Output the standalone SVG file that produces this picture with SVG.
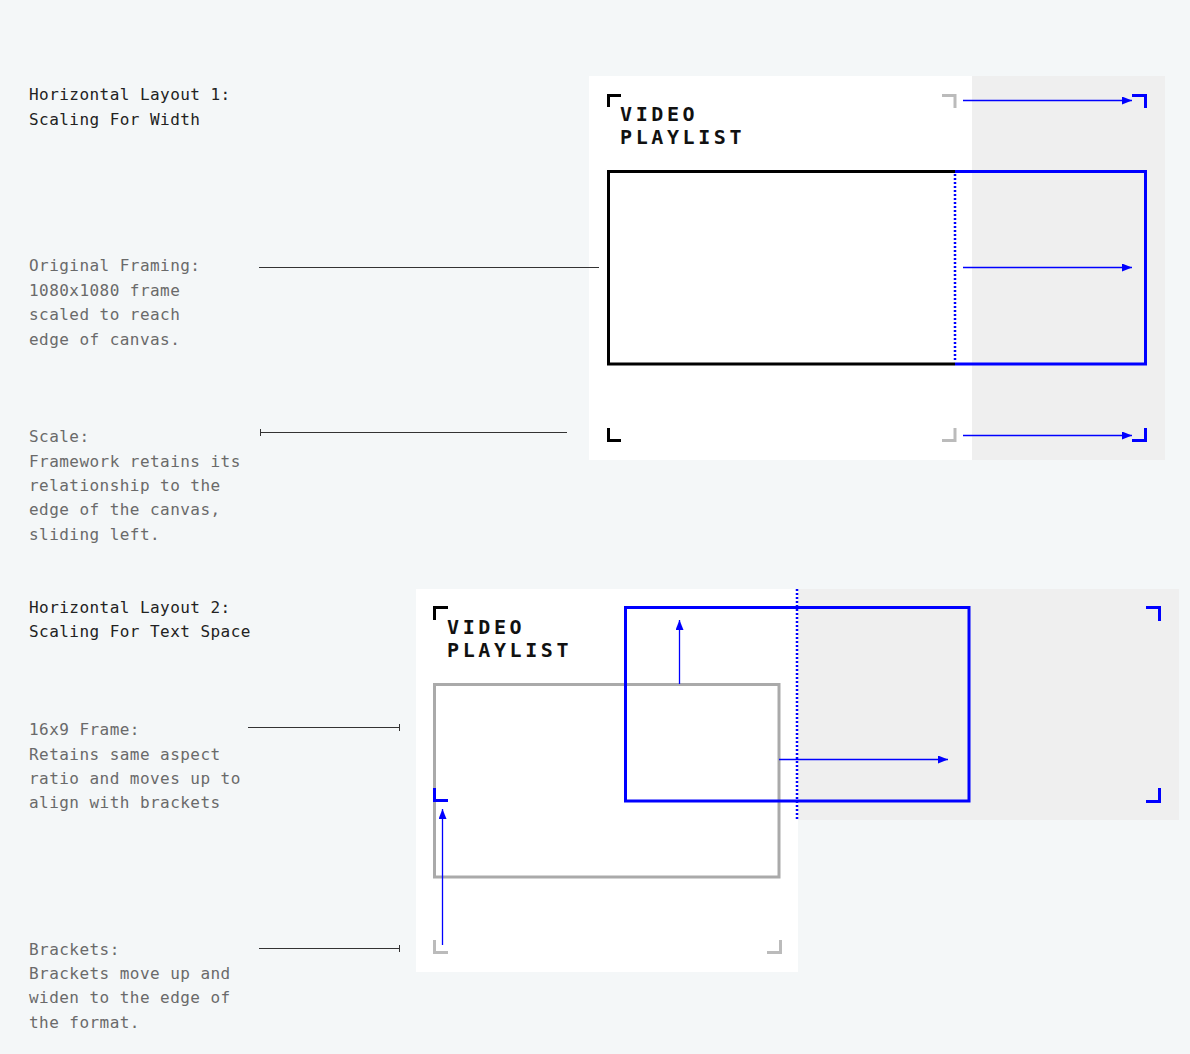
<svg xmlns="http://www.w3.org/2000/svg" width="1190" height="1054" viewBox="0 0 1190 1054">
<style>
.h{font-family:"DejaVu Sans Mono","Liberation Mono",monospace;font-size:16px;fill:#222;letter-spacing:0.45px}
.d{font-family:"DejaVu Sans Mono","Liberation Mono",monospace;font-size:16px;fill:#6a6a6a;letter-spacing:0.45px}
.t{font-family:"DejaVu Sans Mono","Liberation Mono",monospace;font-size:20px;font-weight:bold;fill:#111;letter-spacing:3.6px}
.lead{stroke:#333;stroke-width:1;fill:none}
.bk{stroke:#000;stroke-width:3;fill:none}
.bg{stroke:#bbb;stroke-width:3;fill:none}
.bb{stroke:#0000ff;stroke-width:3;fill:none}
.arr{stroke:#0000ff;stroke-width:1.3;fill:none;marker-end:url(#ah)}
.dot{stroke:#0000ff;stroke-width:2.5;stroke-dasharray:2 2;fill:none}
</style>
<defs>
<marker id="ah" viewBox="0 0 10 8" refX="10" refY="4" markerWidth="10" markerHeight="8" markerUnits="userSpaceOnUse" orient="auto">
<path d="M0,0 L10,4 L0,8 Z" fill="#0000ff"/>
</marker>
</defs>
<rect x="0" y="0" width="1190" height="1054" fill="#f4f7f8"/>
<g id="labels">
<text class="h" x="29" y="100">Horizontal Layout 1:</text>
<text class="h" x="29" y="125">Scaling For Width</text>
<text class="d" x="29" y="271">Original Framing:</text>
<text class="d" x="29" y="296">1080x1080 frame</text>
<text class="d" x="29" y="320">scaled to reach</text>
<text class="d" x="29" y="345">edge of canvas.</text>
<text class="d" x="29" y="442">Scale:</text>
<text class="d" x="29" y="467">Framework retains its</text>
<text class="d" x="29" y="491">relationship to the</text>
<text class="d" x="29" y="515">edge of the canvas,</text>
<text class="d" x="29" y="540">sliding left.</text>
<text class="h" x="29" y="613">Horizontal Layout 2:</text>
<text class="h" x="29" y="637">Scaling For Text Space</text>
<text class="d" x="29" y="735">16x9 Frame:</text>
<text class="d" x="29" y="760">Retains same aspect</text>
<text class="d" x="29" y="784">ratio and moves up to</text>
<text class="d" x="29" y="808">align with brackets</text>
<text class="d" x="29" y="955">Brackets:</text>
<text class="d" x="29" y="979">Brackets move up and</text>
<text class="d" x="29" y="1003">widen to the edge of</text>
<text class="d" x="29" y="1028">the format.</text>
</g>
<g id="layout1">
<rect x="589" y="76" width="383" height="384" fill="#ffffff"/>
<rect x="972" y="76" width="193" height="384" fill="#efefef"/>
<path class="bk" d="M608.5,107 V95.5 H621"/>
<text class="t" x="620" y="121">VIDEO</text>
<text class="t" x="620" y="144">PLAYLIST</text>
<path class="bg" d="M942,95.5 H955 V108"/>
<path class="bb" d="M1132,95.5 H1145.5 V108"/>
<path class="bk" d="M955,171.5 H608.5 V364 H955"/>
<path class="bb" d="M955,171.5 H1145.5 V364 H955"/>
<line class="dot" x1="955" y1="174" x2="955" y2="362"/>
<path class="bk" d="M608.5,428 V440.5 H621"/>
<path class="bg" d="M942,440.5 H955 V428"/>
<path class="bb" d="M1132,440.5 H1145.5 V428"/>
</g>
<g id="layout2">
<rect x="416" y="589" width="382" height="383" fill="#ffffff"/>
<rect x="798" y="589" width="381" height="231" fill="#efefef"/>
<path class="bk" d="M434.5,620 V607.5 H448"/>
<text class="t" x="447" y="634">VIDEO</text>
<text class="t" x="447" y="657">PLAYLIST</text>
<rect x="434.5" y="684.5" width="344.5" height="192.5" fill="none" stroke="#aaaaaa" stroke-width="3"/>
<rect class="bb" x="625.5" y="607.5" width="343.5" height="193.5"/>
<line class="dot" x1="797" y1="589" x2="797" y2="820"/>
<path class="bb" d="M434.5,788 V800.5 H448"/>
<path class="bg" d="M434.5,940 V952.5 H448"/>
<path class="bg" d="M767,952.5 H780.5 V940"/>
<path class="bb" d="M1146,607.5 H1159.5 V621"/>
<path class="bb" d="M1146,801.5 H1159.5 V788"/>
</g>
<g id="connectors">
<line class="lead" x1="259" y1="267.5" x2="599" y2="267.5"/>
<line class="lead" x1="260" y1="432.5" x2="567" y2="432.5"/>
<line class="lead" x1="260.5" y1="429" x2="260.5" y2="436"/>
<line class="lead" x1="248" y1="727.5" x2="400" y2="727.5"/>
<line class="lead" x1="399.5" y1="724" x2="399.5" y2="731"/>
<line class="lead" x1="259" y1="948.5" x2="400" y2="948.5"/>
<line class="lead" x1="399.5" y1="945" x2="399.5" y2="952"/>
<line class="arr" x1="963" y1="100.5" x2="1132" y2="100.5"/>
<line class="arr" x1="963" y1="267.5" x2="1132" y2="267.5"/>
<line class="arr" x1="963" y1="435.5" x2="1132" y2="435.5"/>
<line class="arr" x1="679.5" y1="684" x2="679.5" y2="620"/>
<line class="arr" x1="779" y1="759.5" x2="948" y2="759.5"/>
<line class="arr" x1="442.5" y1="945" x2="442.5" y2="809"/>
</g>
</svg>
